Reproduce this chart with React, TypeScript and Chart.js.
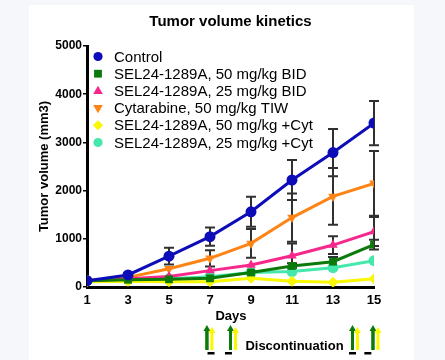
import React, { useEffect, useRef } from "react";
import { Chart, registerables } from "chart.js";

Chart.register(...registerables);

const days = [1, 3, 5, 7, 9, 11, 13, 15];
const seriesNames = [
  "Control",
  "SEL24-1289A, 50 mg/kg BID",
  "SEL24-1289A, 25 mg/kg BID",
  "Cytarabine, 50 mg/kg TIW",
  "SEL24-1289A, 50 mg/kg +Cyt",
  "SEL24-1289A, 25 mg/kg +Cyt",
];
const control = [130, 250, 640, 1045, 1560, 2220, 2790, 3400];
const sel50 = [130, 150, 160, 180, 300, 435, 525, 880];
const sel25 = [130, 170, 220, 340, 455, 650, 870, 1150];
const cytarabine = [130, 200, 380, 595, 905, 1440, 1880, 2150];
const sel50Cyt = [110, 120, 110, 110, 180, 120, 100, 170];
const sel25Cyt = [130, 160, 170, 215, 300, 320, 400, 545];

const controlSd = [0, 30, 175, 190, 310, 415, 490, 460];
const sel50Sd = [0, 0, 0, 0, 0, 60, 100, 100];
const sel25Sd = [0, 0, 0, 0, 0, 255, 185, 300];
const cytarabineSd = [0, 0, 0, 170, 300, 500, 590, 670];
const sel50CytSd = [0, 0, 0, 0, 0, 0, 0, 0];
const sel25CytSd = [0, 0, 0, 0, 0, 0, 0, 0];

const yTicks = [0, 1000, 2000, 3000, 4000, 5000];
const arrowDays = [6.85, 8, 13.95, 14.95];
const dashDays = [7.05, 7.9, 13.95, 14.7];

const colors = ["#0c0cb8", "#0b7a0b", "#f7288c", "#ff8416", "#f8f800", "#45e8ac"];
const pointStyles = ["circle", "rect", "triangle", "triangle", "rectRot", "circle"];
const rotations = [0, 0, 0, 180, 0, 0];

const values = [control, sel50, sel25, cytarabine, sel50Cyt, sel25Cyt];
const sds = [controlSd, sel50Sd, sel25Sd, cytarabineSd, sel50CytSd, sel25CytSd];

function drawMarker(ctx: CanvasRenderingContext2D, style: string, rot: number, x: number, y: number, r: number, color: string) {
  ctx.save();
  ctx.fillStyle = color;
  ctx.translate(x, y);
  ctx.rotate((rot * Math.PI) / 180);
  ctx.beginPath();
  if (style === "circle") {
    ctx.arc(0, 0, r, 0, Math.PI * 2);
  } else if (style === "rect") {
    ctx.rect(-r * 0.85, -r * 0.85, r * 1.7, r * 1.7);
  } else if (style === "triangle") {
    ctx.moveTo(0, -r * 1.1);
    ctx.lineTo(r * 1.05, r * 0.7);
    ctx.lineTo(-r * 1.05, r * 0.7);
    ctx.closePath();
  } else if (style === "rectRot") {
    ctx.moveTo(0, -r * 1.1);
    ctx.lineTo(r * 1.1, 0);
    ctx.lineTo(0, r * 1.1);
    ctx.lineTo(-r * 1.1, 0);
    ctx.closePath();
  }
  ctx.fill();
  ctx.restore();
}

const FONT = "Arial, 'Liberation Sans', Helvetica, sans-serif";

const decorPlugin = {
  id: "decor",
  beforeDatasetsDraw(chart: any) {
    const ctx = chart.ctx as CanvasRenderingContext2D;
    const ys = chart.scales.y;
    ctx.save();
    ctx.strokeStyle = "#303030";
    ctx.lineWidth = 2;
    sds.forEach((sd, i) => {
      const meta = chart.getDatasetMeta(i);
      sd.forEach((s, j) => {
        if (!s) return;
        const pt = meta.data[j];
        const x = pt.x;
        const yTop = ys.getPixelForValue(values[i][j] + s);
        const yBot = ys.getPixelForValue(Math.max(0, values[i][j] - s));
        ctx.beginPath();
        ctx.moveTo(x, yTop);
        ctx.lineTo(x, yBot);
        ctx.moveTo(x - 5, yTop);
        ctx.lineTo(x + 5, yTop);
        ctx.moveTo(x - 5, yBot);
        ctx.lineTo(x + 5, yBot);
        ctx.stroke();
      });
    });
    ctx.restore();
  },
  afterDraw(chart: any) {
    const ctx = chart.ctx as CanvasRenderingContext2D;
    const area = chart.chartArea;
    const xs = chart.scales.x;
    ctx.save();
    ctx.fillStyle = "#000";
    ctx.font = `bold 15px ${FONT}`;
    ctx.textAlign = "center";
    ctx.textBaseline = "middle";
    ctx.fillText("Tumor volume kinetics", (area.left + area.right) / 2, 22);
    ctx.save();
    ctx.translate(44, (area.top + area.bottom) / 2);
    ctx.rotate(-Math.PI / 2);
    ctx.font = `bold 13px ${FONT}`;
    ctx.fillText("Tumor volume (mm3)", 0, 0);
    ctx.restore();
    ctx.font = `bold 13px ${FONT}`;
    ctx.fillText("Days", 231, 316);
    ctx.textAlign = "left";
    ctx.font = `15px ${FONT}`;
    seriesNames.forEach((name, i) => {
      const y = 56.5 + i * 17.2;
      drawMarker(ctx, pointStyles[i], rotations[i], 98, y, 4.6, colors[i]);
      ctx.fillStyle = "#000";
      ctx.fillText(name, 114, y + 1);
    });
    ctx.font = `bold 13px ${FONT}`;
    ctx.textAlign = "center";
    ctx.fillText("Discontinuation", 294.5, 346);
    arrowDays.forEach((d) => {
      const x = xs.getPixelForValue(d);
      const arrow = (ax: number, top: number, color: string) => {
        ctx.fillStyle = color;
        ctx.fillRect(ax - 1.5, top + 5, 3, 350 - top - 5);
        ctx.beginPath();
        ctx.moveTo(ax, top);
        ctx.lineTo(ax + 3.5, top + 6);
        ctx.lineTo(ax - 3.5, top + 6);
        ctx.closePath();
        ctx.fill();
      };
      arrow(x, 325, "#0b7a0b");
      arrow(x + 5, 327, "#f8f800");
      ctx.fillStyle = "#0b7a0b";
      ctx.fillRect(x - 1.5, 330, 3, 20);
    });
    ctx.fillStyle = "#000";
    dashDays.forEach((d) => {
      const x = xs.getPixelForValue(d);
      ctx.fillRect(x - 3.5, 352, 7, 2.5);
    });
    ctx.restore();
  },
};

export default function App() {
  const ref = useRef<HTMLCanvasElement | null>(null);
  useEffect(() => {
    document.body.style.margin = "0";
    const canvas = ref.current!;
    const chart = new Chart(canvas, {
      type: "line",
      data: {
        datasets: values.map((vals, i) => ({
          label: seriesNames[i],
          data: vals.map((v, j) => ({ x: days[j], y: v })),
          borderColor: colors[i],
          backgroundColor: colors[i],
          borderWidth: 3,
          pointStyle: pointStyles[i] as any,
          rotation: rotations[i],
          pointRadius: 5.5,
          pointBorderWidth: 0,
          fill: false,
          tension: 0,
        })),
      },
      options: {
        animation: false,
        responsive: false,
        devicePixelRatio: 1,
        layout: { padding: { left: 29, top: 46, right: 71, bottom: 0 } },
        plugins: { legend: { display: false }, title: { display: false }, tooltip: { enabled: false } },
        scales: {
          x: {
            type: "linear",
            min: 1,
            max: 15,
            afterBuildTicks: (s: any) => {
              s.ticks = days.map((d) => ({ value: d }));
            },
            afterFit: (s: any) => {
              s.height = 73;
            },
            grid: { display: true, drawOnChartArea: false, drawTicks: false },
            border: { display: true, width: 3, color: "#000" },
            ticks: {
              color: "#000",
              font: { family: FONT, size: 13, weight: "bold" },
              padding: 6,
              maxRotation: 0,
              autoSkip: false,
              callback: (v: any) => String(v),
            },
          },
          y: {
            type: "linear",
            min: 0,
            max: 5000,
            afterBuildTicks: (s: any) => {
              s.ticks = yTicks.map((v) => ({ value: v }));
            },
            afterFit: (s: any) => {
              s.width = 58;
            },
            grid: { display: true, drawOnChartArea: false, drawTicks: true, tickLength: 4, color: "#000", lineWidth: 1.5 },
            border: { display: true, width: 3, color: "#000" },
            ticks: {
              color: "#000",
              font: { family: FONT, size: 12, weight: "bold" },
              padding: 1,
              callback: (v: any) => String(v),
            },
          },
        },
      },
      plugins: [decorPlugin],
    });
    return () => chart.destroy();
  }, []);
  return (
    <div style={{ position: "relative", width: 445, height: 360, background: "#f5f7fa", overflow: "hidden" }}>
      <div style={{ position: "absolute", left: 29, top: 5, width: 385, height: 355, background: "#fff" }} />
      <canvas ref={ref} width={445} height={360} style={{ position: "absolute", left: 0, top: 0, width: 445, height: 360 }} />
    </div>
  );
}
